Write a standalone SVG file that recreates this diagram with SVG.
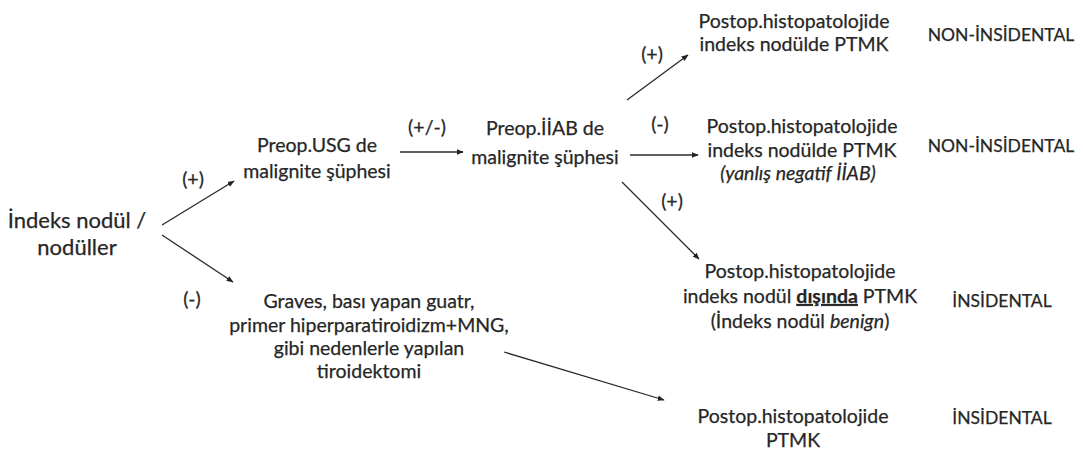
<svg xmlns="http://www.w3.org/2000/svg" width="1083" height="454" viewBox="0 0 1083 454">
<defs>
<marker id="ah" viewBox="0 0 10 10" refX="9" refY="5" markerWidth="7" markerHeight="7" orient="auto" markerUnits="userSpaceOnUse">
<path d="M0,1 L10,5 L0,9 z" fill="#222"/>
</marker>
<style>
text{font-family:Lato,"Liberation Sans",sans-serif;fill:#262626;stroke:#262626;stroke-width:0.25;font-size:19.5px;text-anchor:middle}
.big{font-size:22px}
.cap{font-size:17.5px}
.con line{stroke:#2a2a2a;stroke-width:1.3;marker-end:url(#ah)}
</style>
</defs>
<rect width="1083" height="454" fill="#fff"/>
<g class="con">
<line x1="162" y1="225" x2="234" y2="181"/>
<line x1="162" y1="235" x2="233" y2="282"/>
<line x1="400" y1="152" x2="463" y2="152"/>
<line x1="627" y1="100" x2="688" y2="55"/>
<line x1="630" y1="155" x2="698" y2="155"/>
<line x1="622" y1="182" x2="699" y2="259"/>
<line x1="504" y1="352" x2="664" y2="400"/>
</g>
<g id="lbls">
<text x="193" y="186">(+)</text>
<text x="192" y="306">(-)</text>
<text x="427" y="134">(+/-)</text>
<text x="652" y="61">(+)</text>
<text x="660" y="131">(-)</text>
<text x="672" y="208">(+)</text>
</g>
<g id="n_index"><text class="big" x="77" y="228">İndeks nodül /</text><text class="big" x="77" y="255">nodüller</text></g>
<g id="n_usg"><text x="317" y="152">Preop.USG de</text><text x="317" y="178">malignite şüphesi</text></g>
<g id="n_iiab"><text x="545" y="135">Preop.İİAB de</text><text x="545" y="164">malignite şüphesi</text></g>
<g id="n_graves"><text x="369" y="308">Graves, bası yapan guatr,</text><text x="369" y="332">primer hiperparatiroidizm+MNG,</text><text x="369" y="355">gibi nedenlerle yapılan</text><text x="369" y="378">tiroidektomi</text></g>
<g id="n_r1"><text x="794" y="28">Postop.histopatolojide</text><text x="794" y="51">indeks nodülde PTMK</text></g>
<g id="n_r2"><text x="802" y="133">Postop.histopatolojide</text><text x="802" y="157">indeks nodülde PTMK</text><text x="798" y="180" font-style="italic">(yanlış negatif İİAB)</text></g>
<g id="n_r3"><text x="800" y="278">Postop.histopatolojide</text><text x="800" y="303">indeks nodül <tspan font-weight="bold" text-decoration="underline">dışında</tspan> PTMK</text><text x="800" y="328">(İndeks nodül <tspan font-style="italic">benign</tspan>)</text></g>
<g id="n_r4"><text x="793" y="423">Postop.histopatolojide</text><text x="793" y="447">PTMK</text></g>
<g id="n_c1"><text class="cap" x="1001" y="41">NON-İNSİDENTAL</text></g>
<g id="n_c2"><text class="cap" x="1001" y="152">NON-İNSİDENTAL</text></g>
<g id="n_c3"><text class="cap" x="1002" y="307">İNSİDENTAL</text></g>
<g id="n_c4"><text class="cap" x="1002" y="424">İNSİDENTAL</text></g>
</svg>
